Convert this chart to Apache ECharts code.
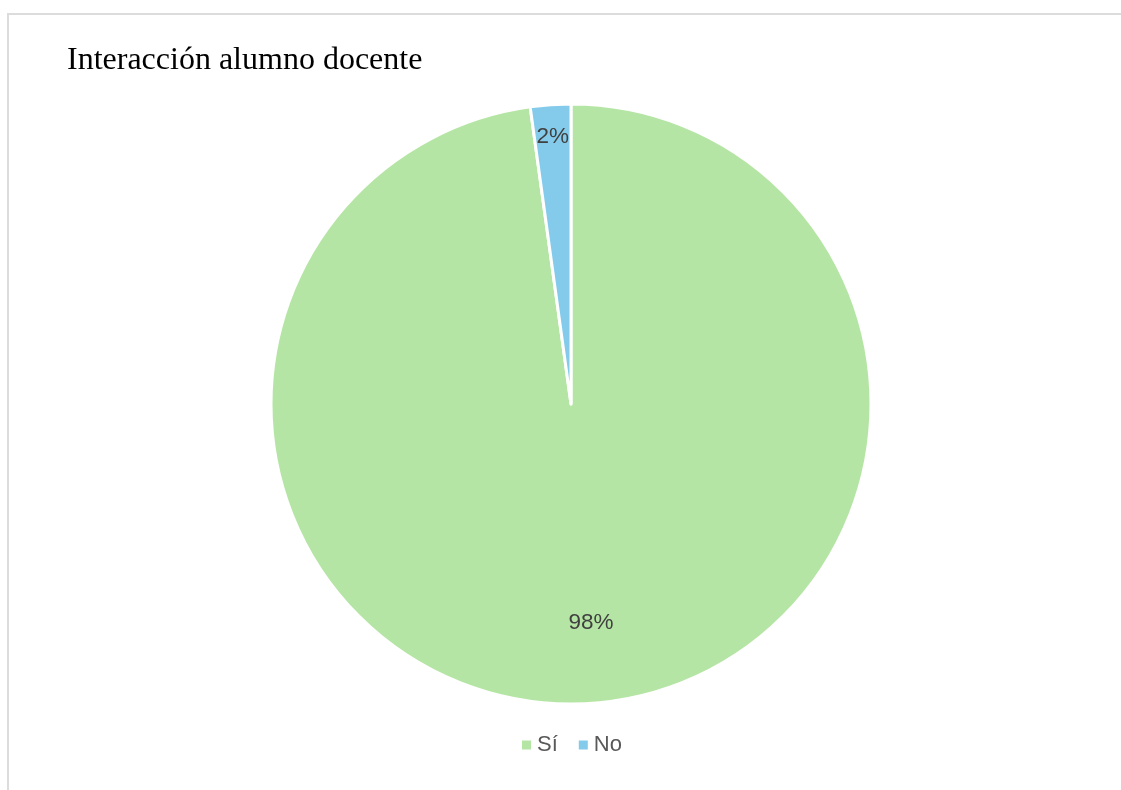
<!DOCTYPE html>
<html>
<head>
<meta charset="utf-8">
<script src="https://cdn.jsdelivr.net/npm/echarts@6/dist/echarts.min.js"></script>
<style>
html,body{margin:0;padding:0;background:#fff;overflow:hidden;}
#frame{position:absolute;left:7px;top:13px;width:1200px;height:900px;border-top:2px solid #dcdcdc;border-left:2px solid #dcdcdc;}
#chart{position:absolute;left:0;top:0;width:1121px;height:790px;}
</style>
</head>
<body>
<div id="frame"></div>
<div id="chart"></div>
<script>
const titleText = 'Interacción alumno docente';
const categories = ['Sí', 'No'];
const values = [45, 1];
const colors = ['#b5e5a4', '#84cbeb'];

const data = categories.map((c, i) => ({ name: c, value: values[i], itemStyle: { color: colors[i] } }));
const labelFont = { fontFamily: 'Liberation Sans, Arial, sans-serif', fontSize: 22.5, color: '#404040' };

function labelSeries(radius, showName, padding) {
  return {
    type: 'pie',
    center: [571, 404],
    radius: radius,
    startAngle: 90,
    clockwise: true,
    silent: true,
    percentPrecision: 0,
    legendHoverLink: false,
    itemStyle: { color: 'rgba(0,0,0,0)', borderWidth: 0 },
    emphasis: { disabled: true },
    labelLine: { show: false },
    data: categories.map((c, i) => ({
      name: c, value: values[i],
      itemStyle: { color: 'rgba(0,0,0,0)' },
      label: Object.assign({ show: c === showName, position: 'inside', formatter: '{d}%', padding: padding }, labelFont)
    }))
  };
}

const chart = echarts.init(document.getElementById('chart'), null, { renderer: 'canvas' });
chart.setOption({
  animation: false,
  title: {
    text: titleText,
    left: 62,
    top: 40,
    textStyle: { fontFamily: 'Liberation Serif, Times New Roman, serif', fontSize: 32, fontWeight: 'normal', color: '#000' }
  },
  legend: {
    data: categories,
    left: 515,
    top: 729,
    icon: 'rect',
    itemWidth: 11,
    itemHeight: 11,
    itemGap: 19,
    textStyle: { fontFamily: 'Liberation Sans, Arial, sans-serif', fontSize: 22, color: '#595959' }
  },
  series: [
    {
      type: 'pie',
      center: [571, 404],
      radius: [0, 300],
      startAngle: 90,
      clockwise: true,
      itemStyle: { borderColor: '#fff', borderWidth: 3 },
      label: { show: false },
      labelLine: { show: false },
      emphasis: { disabled: true },
      data: data
    },
    labelSeries([132, 300], 'Sí', [0, 0, 0, 10]),
    labelSeries([230, 300], 'No', 0)
  ]
});
</script>
</body>
</html>
